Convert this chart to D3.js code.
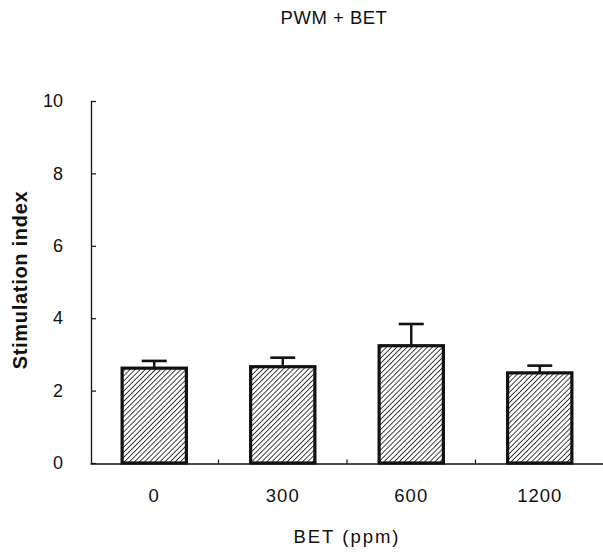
<!DOCTYPE html>
<html><head><meta charset="utf-8">
<script src="https://cdn.jsdelivr.net/npm/d3@7"></script>
<style>body{margin:0;background:#fff;}svg{display:block;font-family:"Liberation Sans",Arial,sans-serif;}</style>
</head><body>
<svg id="c" width="603" height="552"></svg>
<script>
const categories = ["0", "300", "600", "1200"];
const values = [2.62, 2.66, 3.24, 2.49];
const errors = [0.20, 0.25, 0.60, 0.20];
const yTicks = [0, 2, 4, 6, 8, 10];
const title = "PWM + BET";
const xTitle = "BET (ppm)";
const yTitle = "Stimulation index";

const FONT = "Liberation Sans, Arial, sans-serif";
const svg = d3.select("#c");
const x = d3.scaleBand().domain(categories).range([90, 604]).paddingInner(0.5).paddingOuter(0.25);
const y = d3.scaleLinear().domain([0, 10]).range([463, 101]);

const defs = svg.append("defs");
const pat = defs.append("pattern").attr("id", "hatch").attr("patternUnits", "userSpaceOnUse")
  .attr("width", 3.6).attr("height", 3.6).attr("patternTransform", "rotate(45)");
pat.append("rect").attr("width", 3.6).attr("height", 3.6).attr("fill", "#fff");
pat.append("line").attr("x1", 0).attr("y1", 0).attr("x2", 0).attr("y2", 3.6)
  .attr("stroke", "#111").attr("stroke-width", 1.6);

// title
svg.append("text").attr("x", 334).attr("y", 24).attr("text-anchor", "middle")
  .attr("font-size", 18.5).attr("letter-spacing", 0.5).attr("fill", "#111").text(title);

// y axis
const yAxis = d3.axisLeft(y).tickValues(yTicks).tickSize(-5).tickPadding(28).tickSizeOuter(0);
const gy = svg.append("g").attr("transform", "translate(91,0)").call(yAxis);
gy.select(".domain").attr("stroke", "#111").attr("stroke-width", 1.3);
gy.selectAll(".tick line").attr("stroke", "#111").attr("stroke-width", 1.2);
gy.selectAll(".tick text").attr("font-size", 18).attr("fill", "#111").attr("font-family", FONT);

// x axis
const xAxis = d3.axisBottom(x).tickSize(0).tickPadding(25).tickSizeOuter(0);
const gx = svg.append("g").attr("transform", "translate(0,463.5)").call(xAxis);
gx.select(".domain").attr("stroke", "#111").attr("stroke-width", 1.6);
gx.selectAll(".tick text").attr("font-size", 18.5).attr("letter-spacing", 1).attr("fill", "#111").attr("font-family", FONT);
// small separator ticks between categories
gx.selectAll(".sep").data(categories.slice(1)).enter().append("line")
  .attr("x1", d => x(d) - x.bandwidth() * 0.5).attr("x2", d => x(d) - x.bandwidth() * 0.5)
  .attr("y1", 0).attr("y2", -4).attr("stroke", "#111").attr("stroke-width", 1.2);

// error bars
const eb = svg.append("g");
categories.forEach((c, i) => {
  const cx = x(c) + x.bandwidth() / 2;
  eb.append("line").attr("x1", cx).attr("x2", cx).attr("y1", y(values[i])).attr("y2", y(values[i] + errors[i]))
    .attr("stroke", "#111").attr("stroke-width", 2.4);
  eb.append("line").attr("x1", cx - 12.5).attr("x2", cx + 12.5).attr("y1", y(values[i] + errors[i])).attr("y2", y(values[i] + errors[i]))
    .attr("stroke", "#111").attr("stroke-width", 2.6);
});

// bars
svg.append("g").selectAll("rect").data(categories).enter().append("rect")
  .attr("x", d => x(d)).attr("width", x.bandwidth())
  .attr("y", (d, i) => y(values[i])).attr("height", (d, i) => y(0) - y(values[i]))
  .attr("fill", "url(#hatch)").attr("stroke", "#111").attr("stroke-width", 3.2);

// axis titles
svg.append("text").attr("x", 347).attr("y", 543).attr("text-anchor", "middle")
  .attr("font-size", 18.5).attr("letter-spacing", 2).attr("fill", "#111").text(xTitle);
svg.append("text").attr("transform", "translate(27,280) rotate(-90)").attr("text-anchor", "middle")
  .attr("font-size", 20).attr("letter-spacing", 0.7).attr("font-weight", "bold").attr("fill", "#111").text(yTitle);
</script>
</body></html>
